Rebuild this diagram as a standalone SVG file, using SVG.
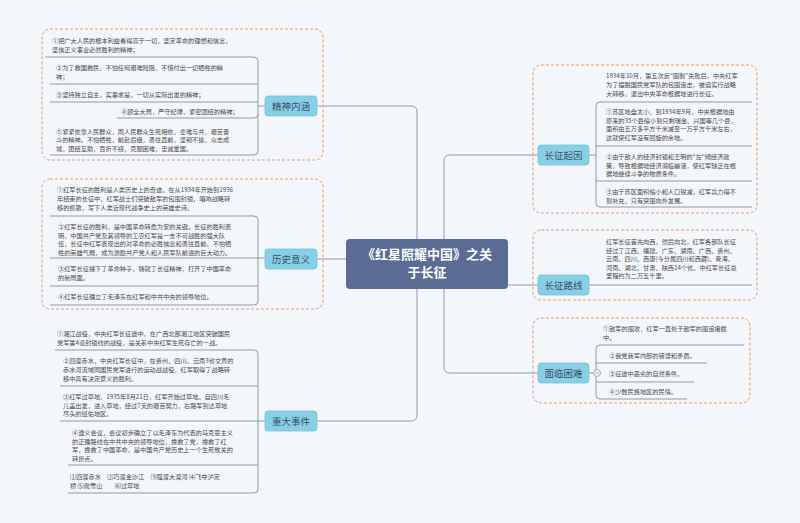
<svg xmlns="http://www.w3.org/2000/svg" width="800" height="523" viewBox="0 0 800 523">
<style>
.t{font-family:"Noto Sans CJK SC","Noto Sans",sans-serif;font-size:6.2px;fill:#4a4a4a}
.n{font-family:"Noto Sans CJK SC","Noto Sans",sans-serif;font-size:9.5px;fill:#3d4f66;text-anchor:middle}
.nb{fill:#86cfe6;stroke:#78c2da;stroke-width:0.8}
.box{fill:none;stroke:#ef9a62;stroke-width:1;stroke-dasharray:3 2}
.l{fill:none;stroke:#8e99a6;stroke-width:1}
</style>
<rect width="800" height="523" fill="#f3f7fb"/>
<g id="connectors">
<path class="l" d="M417 239 V112 Q417 106 411 106 H317"/>
<path class="l" d="M417 289 V415 Q417 421 411 421 H317"/>
<path class="l" d="M346 259 H317"/>
<path class="l" d="M444 239 V161 Q444 155 450 155 H538"/>
<path class="l" d="M444 289 V367 Q444 373 450 373 H538"/>
<path class="l" d="M508 285 H538"/>
</g>
<g id="center">
<rect x="346" y="239" width="162" height="50" rx="4" fill="#5a6c93"/>
<text x="427" y="259" font-family="Noto Sans CJK SC,sans-serif" font-size="13" font-weight="bold" fill="#fff" text-anchor="middle">《红星照耀中国》之关</text>
<text x="427" y="277" font-family="Noto Sans CJK SC,sans-serif" font-size="13" font-weight="bold" fill="#fff" text-anchor="middle">于长征</text>
</g>
<g id="jingshen">
<rect class="box" x="42" y="29" width="281" height="131" rx="8"/>
<path class="l" d="M45 57 H254 Q258 57 258 61 V151 Q258 155 254 155 H50"/>
<path class="l" d="M50 84 H258 M50 102 H258 M117 118 H254 Q258 118 258 114 M258 106 H265"/>
<text class="t" x="52" y="43">①把广大人民的根本利益看得高于一切，坚定革命的理想和信念，</text>
<text class="t" x="52" y="51.5">坚信正义事业必然胜利的精神；</text>
<text class="t" x="56" y="70">②为了救国救民，不怕任何艰难险阻，不惜付出一切牺牲的精</text>
<text class="t" x="56" y="79">神；</text>
<text class="t" x="56" y="97">③坚持独立自主，实事求是，一切从实际出发的精神；</text>
<text class="t" x="121" y="114">④顾全大局，严守纪律，紧密团结的精神；</text>
<text class="t" x="56" y="133.5">⑤紧紧依靠人民群众，同人民群众生死相依，患难与共，艰苦奋</text>
<text class="t" x="56" y="142">斗的精神。不怕牺牲，前赴后继，勇往直前，坚韧不拔，众志成</text>
<text class="t" x="56" y="150.5">城，团结互助，百折不挠，克服困难，忠诚爱国。</text>
<rect class="nb" x="265" y="96" width="52" height="20" rx="3"/>
<text class="n" x="291" y="109.5">精神内涵</text>
</g>
<g id="lishi">
<rect class="box" x="42" y="179" width="281" height="130" rx="8"/>
<path class="l" d="M50 216 H254 Q258 216 258 220 V301 Q258 305 254 305 H50"/>
<path class="l" d="M50 258 H265 M50 286 H258"/>
<text class="t" x="57" y="192">①红军长征的胜利是人类历史上的奇迹。在从1934年开始到1936</text>
<text class="t" x="57" y="201">年结束的长征中，红军战士们突破敌军的包围封锁，唱响战略转</text>
<text class="t" x="57" y="210">移的凯歌，写下人类近现代战争史上的英雄史诗。</text>
<text class="t" x="58" y="229">②红军长征的胜利，是中国革命转危为安的关键。长征的胜利表</text>
<text class="t" x="58" y="237.5">明，中国共产党及其领导的工农红军是一支不可战胜的强大队</text>
<text class="t" x="58" y="246">伍，长征中红军表现出的对革命的必胜信念和勇往直前、不怕牺</text>
<text class="t" x="58" y="254.5">牲的英雄气概，成为激励共产党人和人民军队前进的巨大动力。</text>
<text class="t" x="58" y="271">③红军长征播下了革命种子，铸就了长征精神，打开了中国革命</text>
<text class="t" x="58" y="280">的新局面。</text>
<text class="t" x="58" y="299">④红军长征确立了毛泽东在红军和中共中央的领导地位。</text>
<rect class="nb" x="265" y="249" width="52" height="20" rx="3"/>
<text class="n" x="291" y="262.5">历史意义</text>
</g>
<g id="zhongda">
<path class="l" d="M55 350 H254 Q258 350 258 354 V489 Q258 493 254 493 H68"/>
<path class="l" d="M60 386 H258 M60 421 H265 M68 465 H258"/>
<text class="t" x="57" y="336">①湘江战役，中央红军长征途中，在广西北部湘江地区突破国民</text>
<text class="t" x="57" y="345">党军第4道封锁线的战役，是关系中央红军生死存亡的一战。</text>
<text class="t" x="63" y="363">②四渡赤水，中央红军长征中，在贵州、四川、云南3省交界的</text>
<text class="t" x="63" y="372">赤水河流域同国民党军进行的运动战战役，红军取得了战略转</text>
<text class="t" x="63" y="381">移中具有决定意义的胜利。</text>
<text class="t" x="63" y="399">③红军过草地，1935年8月21日，红军开始过草地。自四川毛</text>
<text class="t" x="63" y="407.5">儿盖出发，进入草地，经过7天的艰苦努力，右路军到达草地</text>
<text class="t" x="63" y="416">尽头的班佑地区。</text>
<text class="t" x="72" y="435">④遵义会议，会议初步确立了以毛泽东为代表的马克思主义</text>
<text class="t" x="72" y="443.5">的正确路线在中共中央的领导地位，挽救了党，挽救了红</text>
<text class="t" x="72" y="452">军，挽救了中国革命，是中国共产党历史上一个生死攸关的</text>
<text class="t" x="72" y="460.5">转折点。</text>
<text class="t" x="70" y="479">⑴四渡赤水　⑵巧渡金沙江　⑶强渡大渡河 ⑷飞夺泸定</text>
<text class="t" x="70" y="488">桥 ⑸爬雪山　　⑹过草地</text>
<rect class="nb" x="265" y="411" width="52" height="20" rx="3"/>
<text class="n" x="291" y="424.5">重大事件</text>
</g>
<g id="qiyin">
<rect class="box" x="533" y="65" width="224" height="148" rx="8"/>
<path class="l" d="M752 102 H600 Q596 102 596 106 V203 Q596 207 600 207 H752"/>
<path class="l" d="M596 146 H752 M596 181 H752 M589 155 H596"/>
<text class="t" x="606" y="78">1934年10月，第五次反"围剿"失败后，中央红军</text>
<text class="t" x="606" y="87">为了摆脱国民党军队的包围追击，被迫实行战略</text>
<text class="t" x="606" y="96">大转移，退出中央革命根据地进行长征。</text>
<text class="t" x="606" y="114">①苏区地盘太小，到1934年9月，中央根据地由</text>
<text class="t" x="606" y="122.5">原来的35个县缩小到只剩瑞金、兴国等几个县，</text>
<text class="t" x="606" y="131">面积由五万多平方千米减至一万平方千米左右，</text>
<text class="t" x="606" y="140">这就使红军没有回旋的余地。</text>
<text class="t" x="606" y="159">②由于敌人的经济封锁和王明的"左"倾经济政</text>
<text class="t" x="606" y="167.5">策，导致根据地经济濒临崩溃，使红军缺乏在根</text>
<text class="t" x="606" y="176">据地继续斗争的物质条件。</text>
<text class="t" x="606" y="194">③由于苏区面积缩小和人口锐减，红军兵力得不</text>
<text class="t" x="606" y="203">到补充，只有突围向外发展。</text>
<rect class="nb" x="538" y="145" width="51" height="20" rx="3"/>
<text class="n" x="563.5" y="158.5">长征起因</text>
</g>
<g id="luxian">
<rect class="box" x="533" y="230" width="224" height="70" rx="8"/>
<path class="l" d="M589 285 H752"/>
<text class="t" x="606" y="244">红军长征首先向西，然后向北，红军各部队长征</text>
<text class="t" x="606" y="252.5">经过了江西、福建、广东、湖南、广西、贵州、</text>
<text class="t" x="606" y="261">云南、四川、西康(今分属四川和西藏)、青海、</text>
<text class="t" x="606" y="269.5">河南、湖北、甘肃、陕西14个省。中红军长征总</text>
<text class="t" x="606" y="278">里程约为二万五千里。</text>
<rect class="nb" x="538" y="275" width="51" height="20" rx="3"/>
<text class="n" x="563.5" y="288.5">长征路线</text>
</g>
<g id="kunnan">
<rect class="box" x="533" y="318" width="217" height="85" rx="8"/>
<path class="l" d="M744 345 H600 Q596 345 596 349 V395 Q596 399 600 399 H687"/>
<path class="l" d="M596 363 H707 M596 382 H694 M589 373 H593"/>
<circle cx="597" cy="373" r="3.5" fill="#f3f7fb" stroke="#8e99a6" stroke-width="0.8"/>
<path d="M595 373 H599" stroke="#8e99a6" stroke-width="0.8"/>
<text class="t" x="603" y="331">①敌军的围攻，红军一直处于敌军的围追堵截</text>
<text class="t" x="603" y="340">中。</text>
<text class="t" x="609" y="358">②我党我军内部的错误和矛盾。</text>
<text class="t" x="609" y="376">③征途中恶劣的自然条件。</text>
<text class="t" x="609" y="394">④少数民族地区的民情。</text>
<rect class="nb" x="538" y="363" width="51" height="20" rx="3"/>
<text class="n" x="563.5" y="376.5">面临困难</text>
</g>
</svg>
